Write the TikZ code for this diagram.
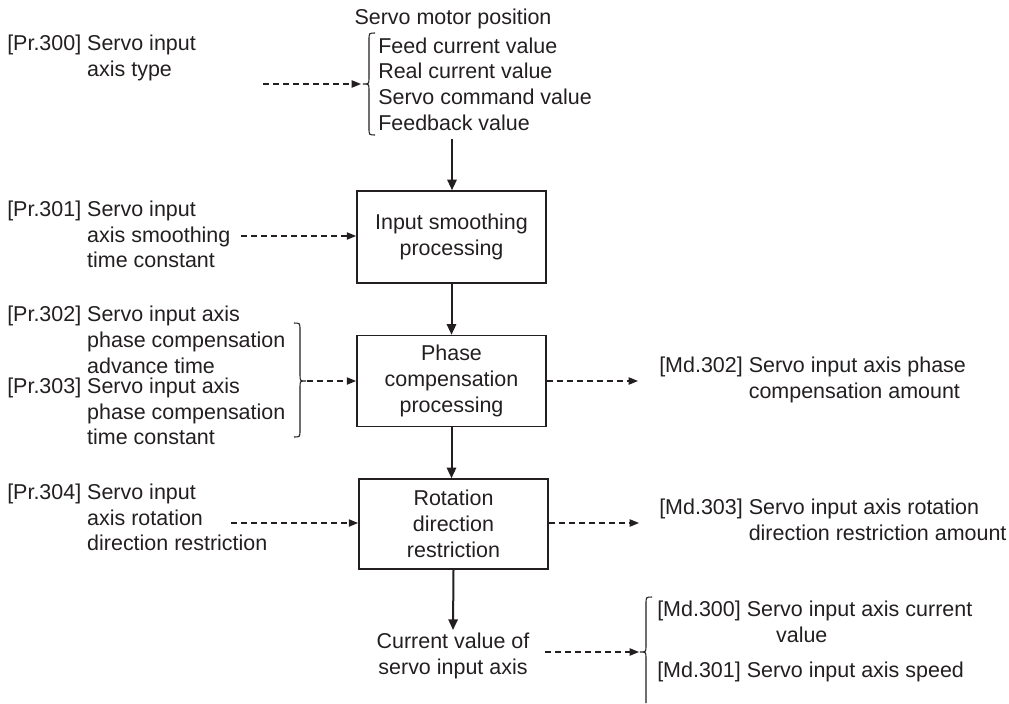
\documentclass[tikz,border=0pt]{standalone}
\usepackage{fontspec}
\setmainfont{Liberation Sans}
\usetikzlibrary{arrows.meta}
\definecolor{ink}{RGB}{35,31,32}
\begin{document}
\begin{tikzpicture}[x=0.75pt,y=-0.75pt,
  every node/.style={text=ink, font=\fontsize{16.1}{19.3}\selectfont, inner sep=0pt},
  lbl/.style={anchor=west, align=left},
  procbox/.style={draw=ink, line width=1.1pt, minimum width=142pt, align=center, inner sep=0pt},
  flowarr/.style={draw=ink, line width=1.5pt, -{Triangle[length=8pt,width=7pt]}},
  dasharr/.style={draw=ink, line width=0.95pt, dash pattern=on 4.5pt off 3pt, -{Triangle[length=7pt,width=5.5pt]}},
  bracestroke/.style={draw=ink, line width=0.8pt}]
\useasboundingbox (0,0) rectangle (1009,703);

% ---- servo motor position source ----
\node (smp) at (453,19) {Servo motor position};
\node[lbl] (smlist) at (378,84) {Feed current value\\Real current value\\Servo command value\\Feedback value};
\draw[bracestroke] (375,33) .. controls (369,33) .. (369,40) -- (369,78)
  .. controls (369,84) .. (363,84) .. controls (369,84) .. (369,90)
  -- (369,128) .. controls (369,135) .. (375,135);
\coordinate (tipA) at (361,84);
\coordinate (smpout) at (452,139);

% ---- processing blocks ----
\node[procbox, minimum height=69pt] (box1) at (451.5,237) {Input smoothing\\processing};
\node[procbox, minimum height=68.25pt] (box2) at (451.5,381) {Phase\\compensation\\processing};
\node[procbox, minimum height=67.5pt] (box3) at (453.5,524) {Rotation\\direction\\restriction};
\node[align=center] (cur) at (453,656) {Current value of\\servo input axis};
\coordinate (curin) at (453,630);

\draw[flowarr] (smpout) -- (smpout |- box1.north);
\draw[flowarr] (box1.south) -- (box2.north);
\draw[flowarr] (box2.south) -- (box2.south |- box3.north);
\draw[flowarr] (box3.south) -- (curin);

% ---- parameters on the left ----
\node[lbl] (pr300) at (7,58) {\begin{tabular}{@{}l@{\ }l@{}}[Pr.300] & Servo input\\ & axis type\end{tabular}};
\node[lbl] (pr301) at (7,237) {\begin{tabular}{@{}l@{\ }l@{}}[Pr.301] & Servo input\\ & axis smoothing\\ & time constant\end{tabular}};
\node[lbl] (pr302) at (7,342.5) {\begin{tabular}{@{}l@{\ }l@{}}[Pr.302] & Servo input axis\\ & phase compensation\\ & advance time\end{tabular}};
\node[lbl] (pr303) at (7,414) {\begin{tabular}{@{}l@{\ }l@{}}[Pr.303] & Servo input axis\\ & phase compensation\\ & time constant\end{tabular}};
\node[lbl] (pr304) at (7,520) {\begin{tabular}{@{}l@{\ }l@{}}[Pr.304] & Servo input\\ & axis rotation\\ & direction restriction\end{tabular}};

\coordinate (s300) at (263,84);
\coordinate (s301) at (241,236);
\coordinate (s304) at (231,523);
\draw[dasharr] (s300) -- (tipA);
\draw[dasharr] (s301) -- (s301 -| box1.west);
\draw[dasharr] (s304) -- (s304 -| box3.west);

% brace joining Pr.302 and Pr.303
\draw[bracestroke] (294,323) .. controls (300,323) .. (300,330) -- (300,375)
  .. controls (300,381) .. (306,381) .. controls (300,381) .. (300,387)
  -- (300,430) .. controls (300,437) .. (294,437);
\coordinate (tipB) at (307,381);
\draw[dasharr] (tipB) -- (tipB -| box2.west);

% ---- monitor outputs on the right ----
\node[lbl] (md302) at (659,380.5) {\begin{tabular}{@{}l@{\ }l@{}}[Md.302] & Servo input axis phase\\ & compensation amount\end{tabular}};
\node[lbl] (md303) at (659,522.5) {\begin{tabular}{@{}l@{\ }l@{}}[Md.303] & Servo input axis rotation\\ & direction restriction amount\end{tabular}};
\coordinate (e302) at (638,381);
\coordinate (e303) at (639,523);
\draw[dasharr] (box2.east |- e302) -- (e302);
\draw[dasharr] (box3.east |- e303) -- (e303);

\node[lbl] (md300) at (657,624) {\begin{tabular}{@{}l@{\ }l@{}}[Md.300] & Servo input axis current\\ & \hspace{22pt}value\end{tabular}};
\node[lbl] (md301) at (657,672) {[Md.301] Servo input axis speed};
\draw[bracestroke] (652,597) .. controls (646,597) .. (646,604) -- (646,646)
  .. controls (646,652) .. (640,652) .. controls (646,652) .. (646,658)
  -- (646,703);
\coordinate (s300out) at (545,652);
\coordinate (tipC) at (639,652);
\draw[dasharr] (s300out) -- (tipC);
\end{tikzpicture}
\end{document}
